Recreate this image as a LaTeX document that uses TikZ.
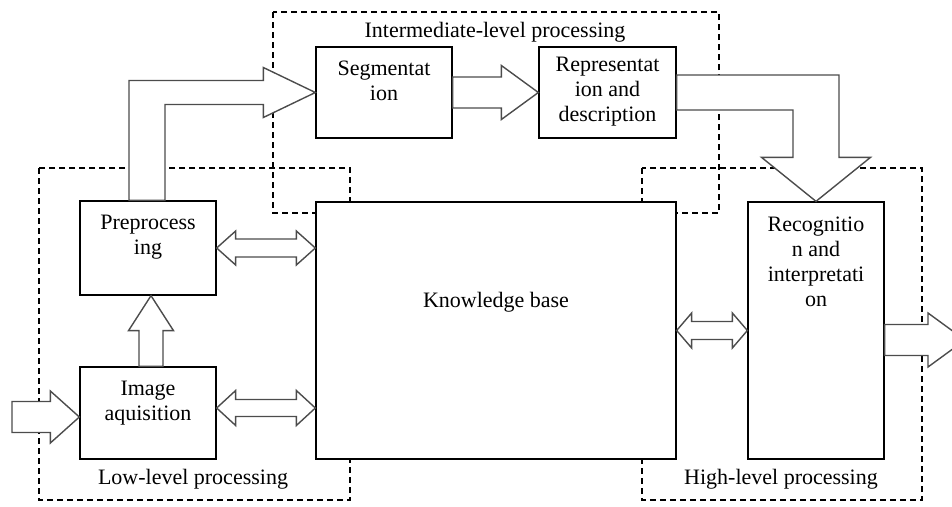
\documentclass[tikz,border=0pt]{standalone}
\usepackage{fontspec}
\setmainfont{Liberation Serif}
\usetikzlibrary{positioning,calc}

\tikzset{
    blk/.style={draw, fill=white, line width=1.3pt, inner sep=0pt},
    txt/.style={align=center, inner sep=0pt, font=\fontsize{22}{25}\selectfont},
    region/.style={draw, line width=1.1pt, dash pattern=on 6pt off 4pt},
    blkarrow/.style={draw=black!70, fill=white, line width=1.4pt, line join=miter},
}

% block arrows: tips, head length, head half width, shaft half width
\newcommand{\dblarrow}[5]{%
    \draw[blkarrow] (#1) -- ++(#3,-#4) -- ++(0,#4-#5) -- ($(#2)+(-#3,-#5)$)
        -- ++(0,#5-#4) -- (#2) -- ++(-#3,#4) -- ++(0,#5-#4)
        -- ($(#1)+(#3,#5)$) -- ++(0,#4-#5) -- cycle;}
\newcommand{\sglarrow}[5]{%
    \draw[blkarrow] ($(#1)+(0,-#5)$) -- ($(#2)+(-#3,-#5)$) -- ++(0,#5-#4)
        -- (#2) -- ++(-#3,#4) -- ++(0,#5-#4) -- ($(#1)+(0,#5)$) -- cycle;}

\begin{document}
\begin{tikzpicture}[x=1pt, y=-1pt]
\clip (0,0) rectangle (952,506);

% processing levels
\draw[region] (39,168) rectangle (350,500);
\draw[region] (273,12) rectangle (719,213);
\draw[region] (642,168) rectangle (922,500);
\node[txt, anchor=base] (lowlbl) at (193,484) {Low-level processing};
\node[txt, anchor=base] (midlbl) at (495,37) {Intermediate-level processing};
\node[txt, anchor=base] (highlbl) at (781,484) {High-level processing};

% blocks
\node[blk, minimum width=136, minimum height=94] (pre) at (148,248) {};
\node[blk, minimum width=136, minimum height=92] (img) at (148,413) {};
\node[blk, minimum width=136, minimum height=91] (seg) at (384,92.5) {};
\node[blk, minimum width=137, minimum height=91] (rep) at (607.5,92.5) {};
\node[blk, minimum width=360, minimum height=257] (kb) at (496,330.5) {};
\node[blk, minimum width=136, minimum height=257] (rec) at (816,330.5) {};

\node[txt, below=15pt of pre.north] (pretxt) {Preprocess\\ing};
\node[txt, below=15pt of img.north] (imgtxt) {Image\\aquisition};
\node[txt, below=14pt of seg.north] (segtxt) {Segmentat\\ion};
\node[txt, below=11pt of rep.north] (reptxt) {Representat\\ion and\\description};
\node[txt, below=91pt of kb.north] (kbtxt) {Knowledge base};
\node[txt, below=15pt of rec.north] (rectxt) {Recognitio\\n and\\interpretati\\on};

% connectors
\coordinate (in) at (12,417);
\coordinate (imgin) at ([yshift=-4pt]img.west);
\sglarrow{in}{imgin}{29}{26}{15.5}

\coordinate (ua) at ([xshift=3pt]img.north);
\coordinate (ub) at (ua |- pre.south);
\draw[blkarrow] ($(ua)+(-12,0)$) -- ($(ub)+(-12,35)$) -- ++(-10.5,0) -- (ub)
    -- ($(ub)+(22.5,35)$) -- ++(-10.5,0) -- ($(ua)+(12,0)$) -- cycle;

\coordinate (kbpre) at (kb.west |- pre.east);
\dblarrow{pre.east}{kbpre}{19}{17}{9}
\coordinate (imgkb) at ([yshift=5pt]img.east);
\coordinate (kbimg) at (kb.west |- imgkb);
\dblarrow{imgkb}{kbimg}{19}{17.5}{8.5}
\dblarrow{kb.east}{rec.west}{15}{17.5}{9}

\draw[blkarrow] ($(pre.north)+(-19,0)$) |- ($(seg.west)+(-52,-12)$) -- ++(0,-13)
    -- (seg.west) -- ($(seg.west)+(-52,25)$) -- ++(0,-13) -| ($(pre.north)+(17,0)$) -- cycle;
\sglarrow{seg.east}{rep.west}{37}{27}{15.5}
\draw[blkarrow] ($(rep.east)+(0,-17.5)$) -| ($(rec.north)+(23,-44)$) -- ++(31.5,0)
    -- (rec.north) -- ($(rec.north)+(-54.5,-44)$) -- ++(31.5,0) |- ($(rep.east)+(0,17.5)$) -- cycle;

\coordinate (recout) at ([yshift=-9.5pt]rec.east);
\coordinate (out) at (965,340);
\sglarrow{recout}{out}{37}{27}{15.5}
\end{tikzpicture}
\end{document}
